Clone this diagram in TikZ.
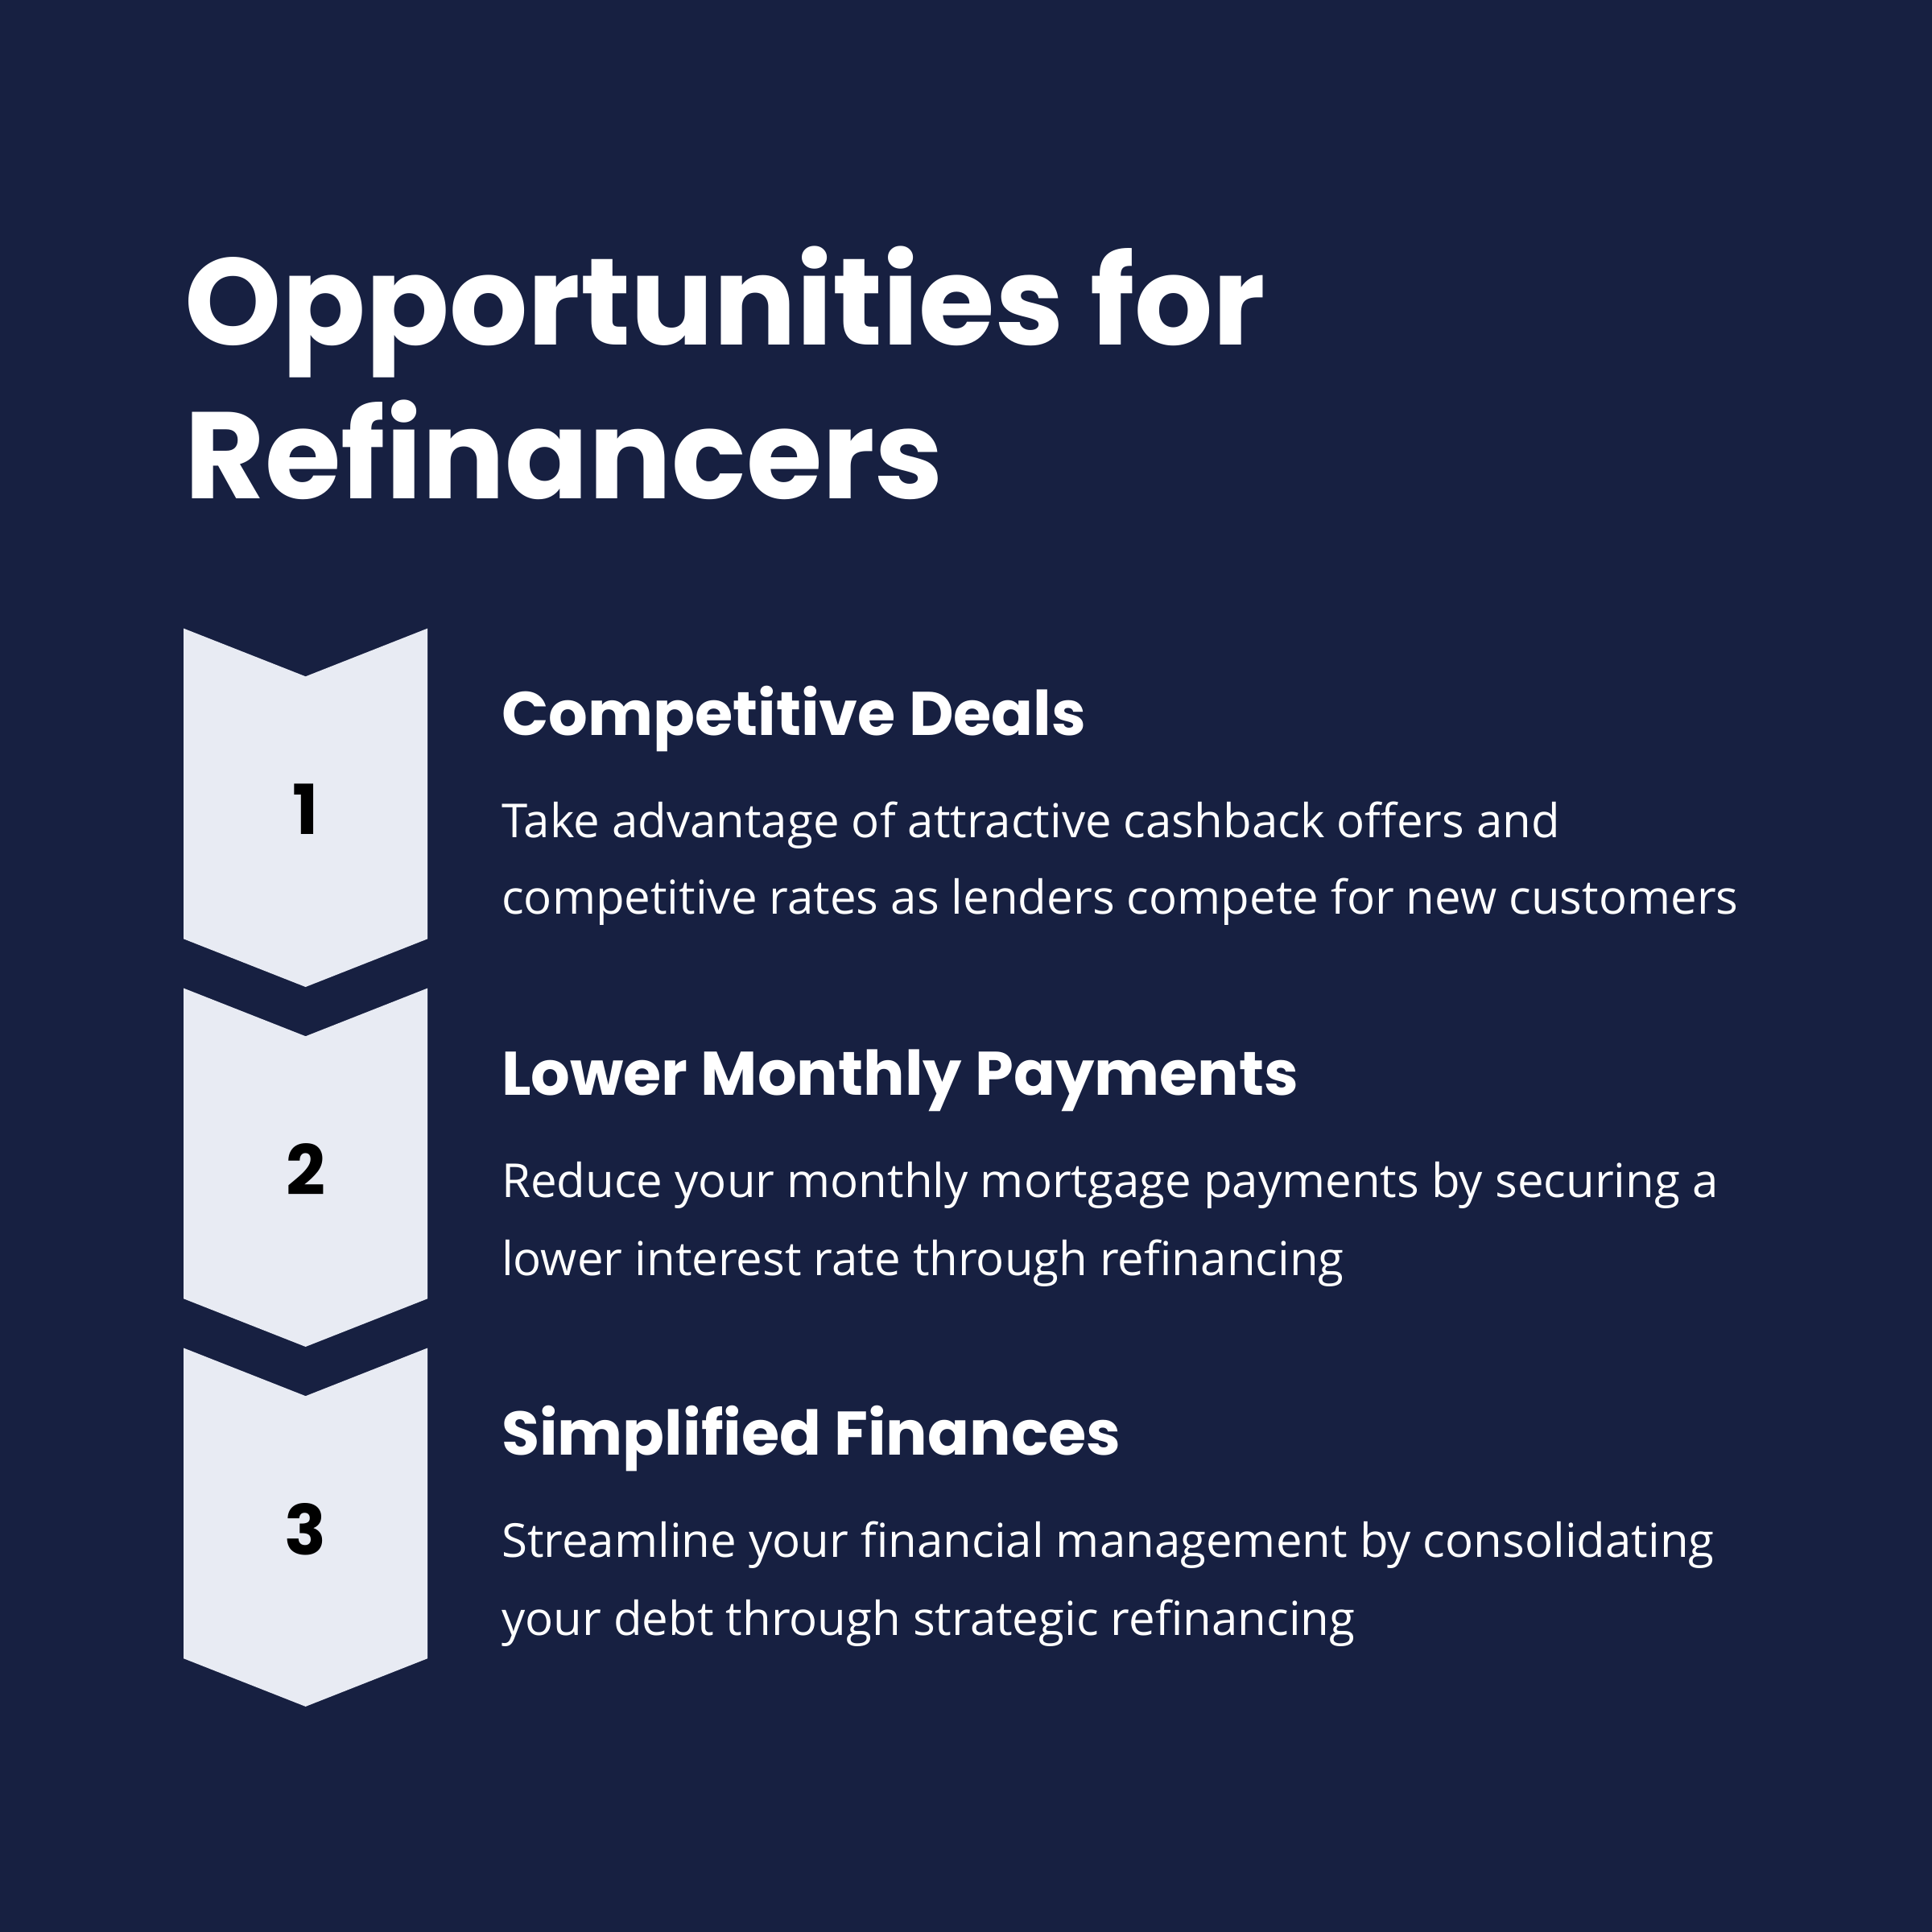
\documentclass[tikz,border=0pt]{standalone}
\usepackage{fontspec}
\setmainfont{Poppins}
\newfontfamily\bodyf{Open Sans}
\definecolor{bg}{HTML}{172041}
\definecolor{chev}{HTML}{E8EBF3}
\begin{document}
\begin{tikzpicture}[x=1pt,y=-1pt,
  ttl/.style={anchor=base west,inner sep=0,text=white,font=\fontsize{100}{100}\selectfont\bfseries},
  hd/.style={anchor=base west,inner sep=0,text=white,font=\fontsize{50}{50}\selectfont\bfseries},
  bd/.style={anchor=base west,inner sep=0,text=white,font=\bodyf\fontsize{38}{38}\selectfont},
  num/.style={inner sep=0,text=black,font=\fontsize{56}{56}\selectfont\bfseries}]
\fill[bg] (0,0) rectangle (1568,1568);
\useasboundingbox (0,0) rectangle (1568,1568);
\node[ttl] (t1) at (150,280) {Opportunities for};
\node[ttl] (t2) at (150,405) {Refinancers};
\foreach \i/\y in {1/510,2/802,3/1094}{
  \fill[chev] (149,\y) -- (248,\y+39) -- (347,\y) -- (347,\y+252) -- (248,\y+291) -- (149,\y+252) -- cycle;
  \node[num] (n\i) at (248,\y+147) {\i};
}
\node[hd] (h1) at (407,597) {Competitive Deals};
\node[bd] (b1a) at (407,680) {Take advantage of attractive cashback offers and};
\node[bd] (b1b) at (407,742) {competitive rates as lenders compete for new customers};
\node[hd] (h2) at (407,889) {Lower Monthly Payments};
\node[bd] (b2a) at (407,972) {Reduce your monthly mortgage payments by securing a};
\node[bd] (b2b) at (407,1035) {lower interest rate through refinancing};
\node[hd] (h3) at (407,1181) {Simplified Finances};
\node[bd] (b3a) at (407,1264) {Streamline your financial management by consolidating};
\node[bd] (b3b) at (407,1327) {your debt through strategic refinancing};
\end{tikzpicture}
\end{document}
